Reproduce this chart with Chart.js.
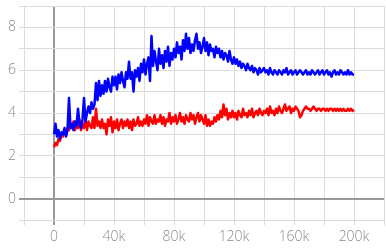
<!DOCTYPE html>
<html>
<head>
<meta charset="utf-8">
<script src="https://cdn.jsdelivr.net/npm/chart.js@4"></script>
<style>
  html, body { margin: 0; padding: 0; background: #fff; }
  #wrap { width: 386px; height: 251px; }
</style>
</head>
<body>
<div id="wrap"><canvas id="chart"></canvas></div>
<script>
const blue = [
  3.0, 3.5, 2.9, 3.2, 2.8, 3.1, 3.0, 3.3, 2.9, 3.2,
  4.7, 3.3, 3.5, 3.2, 3.6, 3.4, 4.2, 3.5, 3.3, 3.7,
  4.7, 3.6, 4.0, 4.3, 4.0, 4.5, 4.2, 4.4, 5.4, 4.6,
  5.5, 4.8, 5.3, 4.9, 5.5, 5.0, 5.6, 5.2, 5.0, 5.7,
  5.3, 5.7, 5.1, 5.8, 5.4, 5.9, 5.5, 5.2, 5.9, 5.6,
  6.4, 5.6, 5.9, 5.0, 6.0, 5.7, 6.1, 5.5, 6.3, 5.9,
  6.5, 5.8, 6.3, 6.6, 5.5, 7.6, 6.2, 6.9, 6.4, 6.0,
  7.0, 6.3, 6.7, 6.1, 6.9, 6.4, 7.1, 6.2, 6.8, 6.5,
  7.0, 6.6, 7.3, 6.8, 7.1, 6.5, 7.4, 6.9, 7.7, 7.0,
  7.5, 6.8, 7.2, 6.9, 7.4, 7.7, 7.0, 7.3, 6.8, 7.1,
  7.5, 6.9, 7.3, 6.7, 7.2, 6.9, 7.0, 6.6, 7.1, 6.8,
  7.0, 6.6, 6.9, 6.5, 6.8, 6.7, 6.4, 6.9, 6.5, 6.3,
  6.6, 6.3, 6.5, 6.2, 6.4, 6.1, 6.3, 6.2, 6.0, 6.3,
  6.1, 6.0, 6.2, 5.9, 6.1, 6.0, 5.8, 6.1, 5.9, 6.0,
  6.1, 5.9, 6.0, 5.8, 6.1, 5.9, 5.8, 6.0, 5.9, 5.8,
  6.0, 5.9, 5.8, 6.0, 5.9, 6.1, 5.8, 5.9, 6.0, 5.8,
  5.9, 6.0, 5.8, 5.9, 6.0, 5.9, 5.8, 5.9, 6.0, 5.8,
  5.9, 5.8, 6.0, 5.9, 5.8, 5.9, 6.0, 5.8, 5.9, 6.0,
  5.8, 5.9, 6.0, 5.8, 5.9, 5.7, 5.9, 6.0, 5.8, 5.9,
  5.8, 6.0, 5.9, 5.8, 5.9, 5.8, 6.0, 5.8, 5.9, 5.8,
  5.8
];
const red = [
  2.4, 2.6, 2.5, 2.8, 2.7, 3.0, 2.9, 3.1, 3.0, 3.3,
  3.2, 3.5, 3.3, 3.6, 3.2, 3.5, 3.3, 3.7, 3.2, 3.5,
  3.3, 3.7, 3.2, 3.6, 3.4, 3.3, 3.8, 3.3, 4.2, 3.4,
  3.6, 3.3, 3.7, 3.3, 3.5, 3.0, 3.7, 3.4, 3.8, 3.1,
  3.6, 3.3, 3.7, 3.2, 3.5, 3.7, 3.3, 3.6, 3.4, 3.7,
  3.3, 3.6, 3.2, 3.7, 3.4, 3.5, 3.8, 3.4, 3.6, 3.4,
  3.7, 3.5, 3.9, 3.4, 3.8, 3.6, 3.5, 3.9, 3.5, 3.7,
  3.6, 3.9, 3.5, 3.8, 3.4, 3.7, 3.6, 4.0, 3.5, 3.8,
  3.6, 3.9, 3.5, 3.7, 4.0, 3.6, 3.8, 3.5, 3.9, 3.7,
  3.6, 4.0, 3.7, 3.9, 3.5, 3.8, 4.0, 3.6, 3.9, 3.7,
  3.5, 3.9, 3.4, 3.7, 3.4, 3.6, 3.5, 3.8, 3.6, 3.9,
  3.7, 4.1, 3.8, 4.4, 3.9, 4.2, 3.7, 4.0, 3.8, 4.1,
  3.8, 4.0, 3.7, 4.1, 3.9, 3.8, 4.2, 3.9, 4.0, 3.8,
  4.1, 3.9, 4.2, 3.8, 4.0, 4.1, 3.9, 4.2, 4.0, 3.9,
  4.1, 4.0, 4.2, 3.9, 4.3, 4.0, 4.1, 3.9, 4.2, 4.0,
  4.3, 4.1, 4.0, 4.2, 4.4, 4.1, 4.2, 4.3, 4.0, 4.2,
  4.1, 4.3, 4.2, 4.1, 3.8, 3.9, 4.1, 4.2, 4.3, 4.2,
  4.2, 4.1, 4.2, 4.3, 4.2, 4.1, 4.2, 4.2, 4.1, 4.2,
  4.2, 4.1, 4.2, 4.1, 4.2, 4.2, 4.1, 4.2, 4.1, 4.2,
  4.1, 4.2, 4.1, 4.2, 4.1, 4.1, 4.2, 4.1, 4.2, 4.1,
  4.15
];
const xStep = 1000;
const xTickLabels = ["0", "40k", "80k", "120k", "160k", "200k"];
const yTickLabels = ["0", "2", "4", "6", "8"];

const toPoints = arr => arr.map((v, i) => ({ x: i * xStep, y: v }));

const gridColor = ctx => ctx.tick && ctx.tick.value === 0 ? "#9a9a9a" : "#dcdcdc";
const gridWidth = ctx => ctx.tick && ctx.tick.value === 0 ? 2 : 1;
const font = { family: "'Open Sans', sans-serif", size: 14, weight: 300 };

new Chart(document.getElementById("chart"), {
  type: "line",
  data: {
    datasets: [
      { data: toPoints(blue), borderColor: "#0000ff", borderWidth: 2.5, borderJoinStyle: "round", pointRadius: 0, tension: 0 },
      { data: toPoints(red), borderColor: "#ff0000", borderWidth: 2.5, borderJoinStyle: "round", pointRadius: 0, tension: 0 }
    ]
  },
  options: {
    responsive: true,
    maintainAspectRatio: false,
    animation: false,
    layout: { padding: { top: 6, right: 2, left: 0, bottom: 0 } },
    plugins: { legend: { display: false }, tooltip: { enabled: false } },
    scales: {
      x: {
        type: "linear",
        min: -20000, max: 220000,
        border: { display: false },
        grid: { color: gridColor, lineWidth: gridWidth, tickLength: 5 },
        ticks: {
          stepSize: 20000, color: "#8a8a8a", font, maxRotation: 0, autoSkip: false, padding: 4,
          callback: v => {
            const i = v / 40000;
            return Number.isInteger(i) && i >= 0 && i < xTickLabels.length ? xTickLabels[i] : "";
          }
        },
        afterFit: s => { s.height = 31; s.paddingLeft = 0; s.paddingRight = 0; }
      },
      y: {
        min: -1, max: 9,
        border: { display: false },
        grid: { color: gridColor, lineWidth: gridWidth, tickLength: 5 },
        ticks: {
          stepSize: 1, color: "#8a8a8a", font, autoSkip: false,
          callback: v => {
            const i = v / 2;
            return Number.isInteger(i) && i >= 0 && i < yTickLabels.length ? yTickLabels[i] : "";
          }
        },
        afterFit: s => { s.width = 24; s.paddingTop = 0; s.paddingBottom = 0; }
      }
    }
  }
});
</script>
</body>
</html>
